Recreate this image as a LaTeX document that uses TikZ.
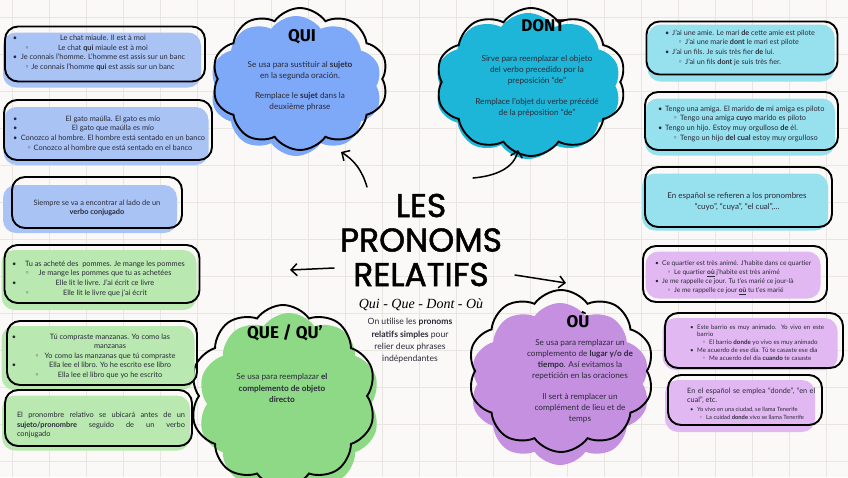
\documentclass[tikz,border=0pt]{standalone}
\usepackage{fontspec}
\setmainfont{Lato}
\newfontfamily\dejavu{DejaVu Sans}
\newfontfamily\headfont{Fira Sans}
\newfontfamily\titlefnt[FakeBold=1.5]{Poppins}
\newfontfamily\scriptfnt{Liberation Serif}
\usetikzlibrary{shapes.symbols,arrows.meta}
\definecolor{paper}{HTML}{FBF9F7}
\definecolor{gridc}{HTML}{E9E5E1}
\definecolor{ink}{HTML}{2A2A38}
\definecolor{blueL}{HTML}{A9C3F5}
\definecolor{blueC}{HTML}{7EA8F8}
\definecolor{cyanL}{HTML}{97E0EE}
\definecolor{cyanC}{HTML}{1EB6D8}
\definecolor{greenL}{HTML}{B9E8B0}
\definecolor{greenC}{HTML}{8ED985}
\definecolor{purpL}{HTML}{E2B8F2}
\definecolor{purpC}{HTML}{C690E0}
\newlength\bw
\newcommand\CL[3]{\rlap{\hspace*{#1}#2}\makebox[\bw][c]{#3}}
\newcommand\bB{{\dejavu ◦}}
\newcommand\Lone[2][0pt]{\hspace*{#1}\makebox[7pt][l]{\textbullet}#2}
\newcommand\Ltwo[2][13pt]{\hspace*{#1}\makebox[7pt][l]{\bB}#2}
\begin{document}
\begin{tikzpicture}[x=1pt,y=-1pt,
  boxline/.style={draw=black, line width=1.9pt, rounded corners=13pt, rectangle, inner sep=0pt},
  boxfill/.style={fill=#1, rounded corners=13pt, rectangle, inner sep=0pt},
  cloudbase/.style={cloud, cloud puffs=10, cloud puff arc=110, cloud ignores aspect, inner sep=0pt},
  cloudline/.style={cloudbase, draw=black, line width=1.9pt},
  txt/.style={text=ink, inner sep=0pt, font=\fontsize{7.4}{9.7}\selectfont},
  ctxt/.style={text=ink, inner sep=0pt, align=center, font=\fontsize{8.2}{11.2}\selectfont},
  head/.style={text=black, inner sep=0pt, font=\headfont\bfseries\fontsize{17}{17}\selectfont},
  arr/.style={draw=black, line width=1.5pt, line cap=round, -{Straight Barb[length=6pt,width=12pt,line width=1.5pt]}}
]
\fill[paper] (0,0) rectangle (848,477);
\useasboundingbox (0,0) rectangle (848,477);
\foreach \i in {12,49,...,848} \draw[gridc, line width=0.6pt] (\i,0) -- (\i,477);
\foreach \j in {17,54,...,477} \draw[gridc, line width=0.6pt] (0,\j) -- (848,\j);

% ---------- clouds ----------
\node[cloudbase, fill=blueC, minimum width=172pt, minimum height=140pt] (quiF) at (296,86) {};
\node[cloudline, minimum width=176pt, minimum height=142pt] (qui) at (300,79) {};
\node[head] (quiH) at (302,37) {QUI};
\node[ctxt] (quiT) at (300,86) {Se usa para sustituir al \textbf{sujeto}\\en la segunda oración.\\[9pt]Remplace le \textbf{sujet} dans la\\deuxième phrase};

\node[cloudbase, fill=cyanC, minimum width=186pt, minimum height=146pt] (dontF) at (528,86) {};
\node[cloudline, minimum width=190pt, minimum height=148pt] (dont) at (531,82) {};
\node[head] (dontH) at (543,26) {DONT};
\node[ctxt] (dontT) at (537,86) {Sirve para reemplazar el objeto\\del verbo precedido por la\\preposición “de”\\[9pt]Remplace l’objet du verbe précédé\\de la préposition “de”};

\node[cloudbase, fill=greenC, minimum width=182pt, minimum height=182pt] (queF) at (289,404) {};
\node[cloudline, minimum width=186pt, minimum height=182pt] (que) at (283,396) {};
\node[head] (queH) at (285,333) {QUE / QU’};
\node[ctxt] (queT) at (282,388) {Se usa para reemplazar \textbf{el}\\\textbf{complemento de objeto}\\\textbf{directo}};

\node[cloudbase, fill=purpC, minimum width=180pt, minimum height=162pt] (ouF) at (560,384) {};
\node[cloudline, minimum width=186pt, minimum height=162pt] (ou) at (561,371) {};
\node[head] (ouH) at (578,320) {OÙ};
\node[ctxt] (ouT) at (580,381) {Se usa para remplazar un\\complemento de \textbf{lugar y/o de}\\\textbf{tiempo}. Así evitamos la\\repetición en las oraciones\\[9pt]Il sert à remplacer un\\complément de lieu et de\\temps};

% ---------- left boxes ----------
\node[boxfill=blueL, minimum width=198pt, minimum height=55pt] (b1f) at (102,60) {};
\node[boxline, minimum width=200pt, minimum height=55pt] (b1) at (105,54) {};
\node[txt, align=left, execute at begin node={\setlength\bw{190pt}}] (b1t) at (103,53) {%
\CL{5pt}{\textbullet}{Le chat miaule. Il est à moi}\\
\CL{17pt}{\bB}{Le chat \textbf{qui} miaule est à moi}\\
\CL{5pt}{\textbullet}{Je connais l’homme. L’homme est assis sur un banc}\\
\CL{17pt}{\bB}{Je connais l’homme \textbf{qui} est assis sur un banc}};

\node[boxfill=blueL, minimum width=205pt, minimum height=58pt] (b2f) at (106,136) {};
\node[boxline, minimum width=208pt, minimum height=60pt] (b2) at (108,130) {};
\node[txt, align=left, execute at begin node={\setlength\bw{200pt}}] (b2t) at (113,133.5) {%
\CL{0pt}{\textbullet}{El gato maúlla. El gato es mío}\\
\CL{0pt}{\textbullet}{El gato que maúlla es mío}\\
\CL{0pt}{\textbullet}{Conozco al hombre. El hombre está sentado en un banco}\\
\CL{14pt}{\bB}{Conozco al hombre que está sentado en el banco}};

\node[boxfill=blueL, minimum width=174pt, minimum height=48pt] (b3f) at (90,209) {};
\node[boxline, minimum width=170pt, minimum height=51pt] (b3) at (97,202.5) {};
\node[txt, align=center] (b3t) at (97,208) {Siempre se va a encontrar al lado de un\\\textbf{verbo conjugado}};

\node[boxfill=greenL, minimum width=195pt, minimum height=60pt] (b4f) at (99,280) {};
\node[boxline, minimum width=195pt, minimum height=58pt] (b4) at (102,274) {};
\node[txt, align=left, execute at begin node={\setlength\bw{190pt}}] (b4t) at (105,278.5) {%
\CL{2pt}{\textbullet}{Tu as acheté des\ \ pommes. Je mange les pommes}\\
\CL{15pt}{\bB}{Je mange les pommes que tu as achetées}\\
\CL{2pt}{\textbullet}{Elle lit le livre. J’ai écrit ce livre}\\
\CL{15pt}{\bB}{Elle lit le livre que j’ai écrit}};

\node[boxfill=greenL, minimum width=193pt, minimum height=64pt] (b5f) at (98,358) {};
\node[boxline, minimum width=190pt, minimum height=64pt] (b5) at (102,353) {};
\node[txt, align=left, font=\fontsize{7.4}{9.5}\selectfont, execute at begin node={\setlength\bw{196pt}}] (b5t) at (110,356) {%
\CL{0pt}{\textbullet}{Tú compraste manzanas. Yo como las}\\
\CL{0pt}{}{manzanas}\\
\CL{23pt}{\bB}{Yo como las manzanas que tú compraste}\\
\CL{0pt}{\textbullet}{Ella lee el libro. Yo he escrito ese libro}\\
\CL{23pt}{\bB}{Ella lee el libro que yo he escrito}};

\node[boxfill=greenL, minimum width=188pt, minimum height=55pt] (b6f) at (96,423) {};
\node[boxline, minimum width=187pt, minimum height=56pt] (b6) at (98.5,418) {};
\node[txt, text width=168pt, align=justify] (b6t) at (101,425) {El pronombre relativo se ubicará antes de un\linebreak \textbf{sujeto/pronombre} seguido de un verbo\linebreak conjugado};

% ---------- right boxes ----------
\node[boxfill=cyanL, minimum width=187pt, minimum height=57pt] (b7f) at (741,53) {};
\node[boxline, minimum width=191pt, minimum height=53pt] (b7) at (742,48) {};
\node[txt, align=left, anchor=west, font=\fontsize{7.2}{9.6}\selectfont] (b7t) at (665,47.5) {%
\Lone{J’ai une amie. Le mari \textbf{de} cette amie est pilote}\\
\Ltwo{J’ai une marie \textbf{dont} le mari est pilote}\\
\Lone{J’ai un fils. Je suis très fier \textbf{de} lui.}\\
\Ltwo{J’ai un fils \textbf{dont} je suis très fier.}};

\node[boxfill=cyanL, minimum width=190pt, minimum height=57pt] (b8f) at (740,127) {};
\node[boxline, minimum width=193pt, minimum height=58pt] (b8) at (741.5,121) {};
\node[txt, align=left, anchor=west, font=\fontsize{7.4}{9.7}\selectfont] (b8t) at (658,123.5) {%
\Lone{Tengo una amiga. El marido \textbf{de} mi amiga es piloto}\\
\Ltwo[15pt]{Tengo una amiga \textbf{cuyo} marido es piloto}\\
\Lone{Tengo un hijo. Estoy muy orgulloso \textbf{de} él.}\\
\Ltwo[15pt]{Tengo un hijo \textbf{del cual} estoy muy orgulloso}};

\node[boxfill=cyanL, minimum width=186pt, minimum height=57pt] (b9f) at (735,202) {};
\node[boxline, minimum width=187pt, minimum height=60pt] (b9) at (738.5,197) {};
\node[txt, align=center, font=\fontsize{8}{11}\selectfont] (b9t) at (737,201.5) {En español se refieren a los pronombres\\“cuyo”, “cuya”, “el cual”,...};

\node[boxfill=purpL, minimum width=175pt, minimum height=47pt] (b10f) at (733,275) {};
\node[boxline, minimum width=184pt, minimum height=56pt] (b10) at (735,274) {};
\node[txt, align=left, anchor=west, font=\fontsize{6.6}{9}\selectfont] (b10t) at (655,277.5) {%
\Lone[0pt]{Ce quartier est très animé. J’habite dans ce quartier}\\
\Ltwo[12pt]{Le quartier \textbf{\underline{où}} j’habite est très animé}\\
\Lone[0pt]{Je me rappelle ce jour. Tu t’es marié ce jour-là}\\
\Ltwo[12pt]{Je me rappelle ce jour \textbf{\underline{où}} tu t’es marié}};

\node[boxfill=purpL, minimum width=175pt, minimum height=52pt] (b11f) at (750,344) {};
\node[boxline, minimum width=178pt, minimum height=55pt] (b11) at (754,340.5) {};
\node[txt, align=left, anchor=west, font=\fontsize{6.2}{7.8}\selectfont] (b11t) at (690,342.5) {%
\Lone[0pt]{\makebox[127pt][s]{Este barrio es muy animado. Yo vivo en este}}\\
\hspace*{7pt}barrio\\
\Ltwo[12pt]{El barrio \textbf{donde} yo vivo es muy animado}\\
\Lone[0pt]{Me acuerdo de ese día. Tú te casaste ese día}\\
\Ltwo[12pt]{Me acuerdo del día \textbf{cuando} te casaste}};

\node[boxfill=purpL, minimum width=150pt, minimum height=52pt] (b12f) at (740,406) {};
\node[boxline, minimum width=154pt, minimum height=50pt] (b12) at (745,400) {};
\node[txt, align=left, anchor=west, font=\fontsize{7.3}{8.6}\selectfont] (b12t) at (687,404) {%
\makebox[128pt][s]{En el español se emplea “donde”, “en el}\\
cual”, etc.\\
{\fontsize{5.8}{8}\selectfont\Lone[3pt]{Yo vivo en una ciudad, se llama Tenerife}}\\
{\fontsize{5.8}{8}\selectfont\Ltwo[12pt]{La cuidad \textbf{donde} vivo se llama Tenerife}}};

% ---------- center ----------
\node[inner sep=0pt, align=center, text=black, font=\titlefnt\fontsize{33}{34.5}\selectfont] (title) at (421,240) {LES\\PRONOMS\\RELATIFS};
\node[inner sep=0pt, text=black, font=\scriptfnt\itshape\fontsize{14}{14}\selectfont] (sub) at (421,305) {Qui - Que - Dont - Où};
\node[inner sep=0pt, align=center, text=ink, font=\fontsize{8.6}{12.3}\selectfont] (intro) at (410,341) {On utilise les \textbf{pronoms}\\\textbf{relatifs simples} pour\\relier deux phrases\\indépendantes};

% ---------- arrows ----------
\coordinate (aq1) at (367,187);
\coordinate (aq2) at (341,152);
\draw[arr] (aq1) .. controls (362,170) and (354,160) .. (aq2);
\coordinate (ad1) at (473,178);
\coordinate (ad2) at (518,150);
\draw[arr] (ad1) .. controls (496,176) and (514,168) .. (ad2);
\coordinate (al1) at (334,268);
\coordinate (al2) at (290,270);
\draw[arr] (al1) -- (al2);
\coordinate (ar1) at (515,275);
\coordinate (ar2) at (566,283);
\draw[arr] (ar1) -- (ar2);
\end{tikzpicture}
\end{document}
